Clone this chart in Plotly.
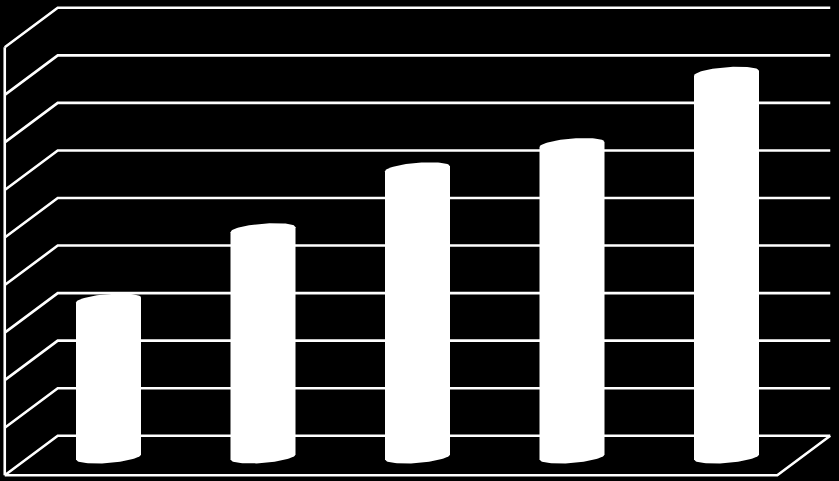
"""Cylinder bars on an oblique 3D-looking grid, white on black."""
import numpy as np
import plotly.graph_objects as go

# chart data
categories = [0, 1, 2, 3, 4]
values = [3.27, 4.75, 6.03, 6.54, 8.04]
grid_levels = [0, 1, 2, 3, 4, 5, 6, 7, 8, 9]

# one x unit = 154.5 px, one y unit = 47.55 px
PX_X = 154.5
PX_Y = 47.55
DEPTH_X = 26.5 / PX_X   # half depth of the floor
DEPTH_Y = 19.75 / PX_Y
X_LEFT, X_RIGHT = -0.5, 4.5
HALF_W = 32.5 / PX_X
CAP_H = 6.0 / PX_Y
CAP_TILT = 2.5 / PX_Y
BASE = -1.5 / PX_Y

fig = go.Figure()


def add_line(xs, ys):
    fig.add_trace(go.Scatter(
        x=xs, y=ys, mode="lines", hoverinfo="skip",
        line=dict(color="#ffffff", width=2.6),
    ))


# walls and floor
for lev in grid_levels:
    add_line(
        [X_LEFT - DEPTH_X, X_LEFT + DEPTH_X, X_RIGHT + DEPTH_X],
        [lev - DEPTH_Y, lev + DEPTH_Y, lev + DEPTH_Y],
    )
add_line([X_LEFT - DEPTH_X] * 2, [grid_levels[0] - DEPTH_Y, grid_levels[-1] - DEPTH_Y])
add_line(
    [X_LEFT - DEPTH_X, X_RIGHT - DEPTH_X, X_RIGHT + DEPTH_X],
    [grid_levels[0] - DEPTH_Y, grid_levels[0] - DEPTH_Y, grid_levels[0] + DEPTH_Y],
)

# cylinders: upper half of the top cap, then lower half of the bottom cap
t_top = np.linspace(np.pi, 0, 40)
t_bot = np.linspace(0, -np.pi, 40)
for cat, val in zip(categories, values):
    xs = np.concatenate([cat + HALF_W * np.cos(t_top), cat + HALF_W * np.cos(t_bot)])
    ys = np.concatenate([
        val + CAP_H * np.sin(t_top) + CAP_TILT * np.cos(t_top),
        BASE + CAP_H * np.sin(t_bot) + CAP_TILT * np.cos(t_bot),
    ])
    fig.add_trace(go.Scatter(
        x=xs, y=ys, mode="lines", fill="toself", fillcolor="#ffffff",
        line=dict(color="#ffffff", width=0), hoverinfo="skip",
    ))

fig.update_layout(
    width=839, height=481,
    margin=dict(l=0, r=0, t=0, b=0),
    paper_bgcolor="#000000",
    plot_bgcolor="#000000",
    showlegend=False,
)
fig.update_xaxes(visible=False, range=[-108.5 / PX_X, (839 - 108.5) / PX_X])
fig.update_yaxes(visible=False, range=[-25.5 / PX_Y, 455.5 / PX_Y])

# page body has a default 8px margin, drop it
fig.write_html(
    "out.html",
    config={"displayModeBar": False},
    post_script="document.body.style.margin='0';document.body.style.background='#000';",
)
